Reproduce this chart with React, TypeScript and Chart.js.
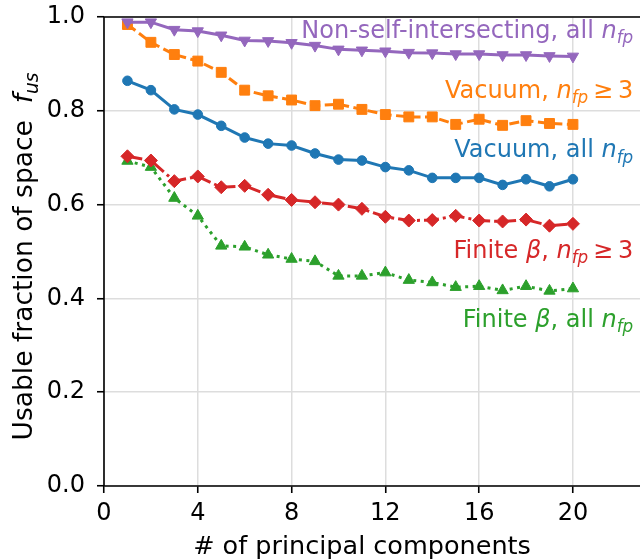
import { useEffect, useRef } from "react";
import { Chart, registerables } from "chart.js";

Chart.register(...registerables);

// Number of principal components kept
const components = [1, 2, 3, 4, 5, 6, 7, 8, 9, 10, 11, 12, 13, 14, 15, 16, 17, 18, 19, 20];

// Usable fraction of space f_us for each configuration family
const nonSelfIntersecting = [0.989, 0.989, 0.973, 0.970, 0.961, 0.950, 0.949, 0.945, 0.939, 0.931, 0.929, 0.927, 0.924, 0.923, 0.921, 0.921, 0.919, 0.919, 0.917, 0.916];
const vacuumNfp3 = [0.984, 0.946, 0.920, 0.906, 0.882, 0.844, 0.832, 0.823, 0.811, 0.814, 0.803, 0.792, 0.787, 0.787, 0.771, 0.782, 0.769, 0.779, 0.773, 0.771];
const vacuumAll = [0.864, 0.844, 0.803, 0.792, 0.768, 0.743, 0.730, 0.726, 0.709, 0.696, 0.694, 0.680, 0.673, 0.657, 0.657, 0.657, 0.642, 0.654, 0.639, 0.654];
const finiteBetaNfp3 = [0.703, 0.694, 0.650, 0.660, 0.637, 0.640, 0.621, 0.610, 0.605, 0.600, 0.591, 0.574, 0.566, 0.567, 0.576, 0.566, 0.564, 0.568, 0.555, 0.559];
const finiteBetaAll = [0.693, 0.680, 0.614, 0.576, 0.512, 0.510, 0.493, 0.484, 0.479, 0.448, 0.448, 0.455, 0.439, 0.434, 0.424, 0.426, 0.417, 0.426, 0.416, 0.421];

// Axis ticks
const xTickStep = 4;
const yTicks = [0, 0.2, 0.4, 0.6, 0.8, 1.0];

const FONT = '"DejaVu Sans", sans-serif';
const PURPLE = "#9467bd";
const ORANGE = "#ff7f0e";
const BLUE = "#1f77b4";
const RED = "#d62728";
const GREEN = "#2ca02c";

type Part = { t: string; i?: boolean; sub?: boolean };

const NFP: Part[] = [
  { t: "n", i: true },
  { t: "fp", i: true, sub: true },
];

// Inline series labels: rich text, colour and anchor (right edge, baseline) in data units
const seriesLabels: { parts: Part[]; color: string; x: number; y: number }[] = [
  { parts: [{ t: "Non-self-intersecting, all " }, ...NFP], color: PURPLE, x: 22.57, y: 0.956 },
  { parts: [{ t: "Vacuum, " }, ...NFP, { t: "\u2009\u2265\u20093" }], color: ORANGE, x: 22.57, y: 0.828 },
  { parts: [{ t: "Vacuum, all " }, ...NFP], color: BLUE, x: 22.57, y: 0.701 },
  { parts: [{ t: "Finite " }, { t: "\u03b2", i: true }, { t: ", " }, ...NFP, { t: "\u2009\u2265\u20093" }], color: RED, x: 22.57, y: 0.486 },
  { parts: [{ t: "Finite " }, { t: "\u03b2", i: true }, { t: ", all " }, ...NFP], color: GREEN, x: 22.57, y: 0.339 },
];

function layoutRich(ctx: CanvasRenderingContext2D, parts: Part[], size: number) {
  const segs = parts.map((p) => {
    const s = p.sub ? size * 0.7 : size;
    const font = `${p.i ? "italic " : ""}${s}px ${FONT}`;
    ctx.font = font;
    return { t: p.t, font, w: ctx.measureText(p.t).width, dy: p.sub ? size * 0.22 : 0 };
  });
  const total = segs.reduce((a, s) => a + s.w, 0);
  return { segs, total };
}

function drawRich(ctx: CanvasRenderingContext2D, parts: Part[], x0: number, baseline: number, size: number, color: string, align: "right" | "center") {
  const { segs, total } = layoutRich(ctx, parts, size);
  let x = align === "right" ? x0 - total : x0 - total / 2;
  ctx.fillStyle = color;
  ctx.textAlign = "left";
  ctx.textBaseline = "alphabetic";
  for (const s of segs) {
    ctx.font = s.font;
    ctx.fillText(s.t, x, baseline + s.dy);
    x += s.w;
  }
}

const decorations = {
  id: "decorations",
  afterDraw(chart: Chart) {
    const ctx = chart.ctx;
    const area = chart.chartArea;
    const xs = chart.scales.x;
    const ys = chart.scales.y;
    ctx.save();

    // spines: left, bottom and top
    ctx.strokeStyle = "#000";
    ctx.lineWidth = 1.6;
    ctx.beginPath();
    ctx.moveTo(area.left, area.top);
    ctx.lineTo(area.left, area.bottom);
    ctx.moveTo(area.left, area.bottom);
    ctx.lineTo(chart.width, area.bottom);
    ctx.moveTo(area.left, area.top);
    ctx.lineTo(chart.width, area.top);
    ctx.stroke();

    // series labels
    for (const l of seriesLabels) {
      drawRich(ctx, l.parts, xs.getPixelForValue(l.x), ys.getPixelForValue(l.y), 24, l.color, "right");
    }

    // x-axis title
    drawRich(ctx, [{ t: "# of principal components" }], 362, 554, 25.5, "#000", "center");

    // y-axis title
    ctx.translate(32, (area.top + area.bottom) / 2 + 5);
    ctx.rotate(-Math.PI / 2);
    drawRich(
      ctx,
      [{ t: "Usable fraction of space  " }, { t: "f", i: true }, { t: "us", i: true, sub: true }],
      0,
      0,
      26.5,
      "#000",
      "center"
    );
    ctx.restore();
  },
};

function series(values: number[]) {
  return components.map((c, i) => ({ x: c, y: values[i] }));
}

function noScalePadding(s: any) {
  s.paddingTop = 0;
  s.paddingBottom = 0;
  s.paddingLeft = 0;
  s.paddingRight = 0;
}

export default function App() {
  const canvasRef = useRef<HTMLCanvasElement | null>(null);

  useEffect(() => {
    if (!canvasRef.current) return;
    const common = { borderWidth: 3, pointBorderWidth: 1, tension: 0, borderCapStyle: "butt" as const, fill: false };
    const chart = new Chart(canvasRef.current, {
      type: "line",
      data: {
        datasets: [
          {
            ...common,
            label: "Non-self-intersecting, all n_fp",
            data: series(nonSelfIntersecting),
            borderColor: PURPLE,
            backgroundColor: PURPLE,
            pointStyle: "triangle",
            pointRotation: 180,
            pointRadius: 6.5,
          },
          {
            ...common,
            label: "Vacuum, n_fp ≥ 3",
            data: series(vacuumNfp3),
            borderColor: ORANGE,
            backgroundColor: ORANGE,
            borderDash: [10, 4.5],
            pointStyle: "rect",
            pointRadius: 7,
          },
          {
            ...common,
            label: "Vacuum, all n_fp",
            data: series(vacuumAll),
            borderColor: BLUE,
            backgroundColor: BLUE,
            pointStyle: "circle",
            pointRadius: 4.8,
          },
          {
            ...common,
            label: "Finite β, n_fp ≥ 3",
            data: series(finiteBetaNfp3),
            borderColor: RED,
            backgroundColor: RED,
            borderDash: [15, 4, 3, 4],
            pointStyle: "rectRot",
            pointRadius: 6.5,
          },
          {
            ...common,
            label: "Finite β, all n_fp",
            data: series(finiteBetaAll),
            borderColor: GREEN,
            backgroundColor: GREEN,
            borderDash: [3, 4.5],
            pointStyle: "triangle",
            pointRadius: 6.5,
          },
        ],
      },
      options: {
        responsive: false,
        animation: false,
        devicePixelRatio: 1,
        layout: { autoPadding: false, padding: { top: 17, left: 0, right: 0, bottom: 0 } },
        plugins: { legend: { display: false }, tooltip: { enabled: false } },
        scales: {
          x: {
            type: "linear",
            min: 0,
            max: 22.86,
            afterFit: (s: any) => {
              s.height = 74;
              noScalePadding(s);
            },
            border: { display: false },
            grid: { color: "#dddddd", lineWidth: 1.5, tickColor: "#000", tickLength: 7, tickWidth: 1.6 },
            ticks: {
              stepSize: xTickStep,
              includeBounds: false,
              color: "#000",
              font: { family: FONT, size: 24 },
              padding: 6,
              maxRotation: 0,
              callback: (v: any) => String(v),
            },
          },
          y: {
            type: "linear",
            min: yTicks[0],
            max: yTicks[yTicks.length - 1],
            afterFit: (s: any) => {
              s.width = 104;
              noScalePadding(s);
            },
            afterBuildTicks: (s: any) => {
              s.ticks = yTicks.map((v) => ({ value: v }));
            },
            border: { display: false },
            grid: { color: "#dddddd", lineWidth: 1.5, tickColor: "#000", tickLength: 7, tickWidth: 1.6 },
            ticks: {
              color: "#000",
              font: { family: FONT, size: 24 },
              padding: 12,
              callback: (v: any) => Number(v).toFixed(1),
            },
          },
        },
      },
      plugins: [decorations],
    });
    return () => chart.destroy();
  }, []);

  return (
    <div style={{ position: "absolute", left: 0, top: 0, width: 640, height: 560, background: "#fff" }}>
      <canvas ref={canvasRef} width={640} height={560} style={{ display: "block" }} />
    </div>
  );
}
